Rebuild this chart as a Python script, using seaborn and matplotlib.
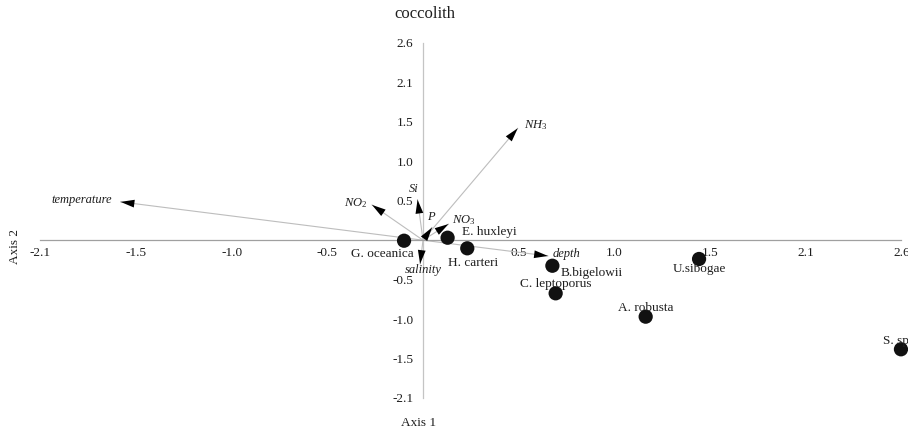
import matplotlib
matplotlib.use("Agg")
import matplotlib.pyplot as plt
import seaborn as sns
import pandas as pd

# Species scores on the first two ordination axes
species = ["G. oceanica", "E. huxleyi", "H. carteri", "B.bigelowii",
           "C. leptoporus", "A. robusta", "U.sibogae", "S. spp"]
species_axis1 = [-0.104, 0.135, 0.243, 0.71, 0.728, 1.222, 1.515, 2.623]
species_axis2 = [-0.007, 0.033, -0.108, -0.34, -0.707, -1.018, -0.25, -1.452]

# Environmental variable vectors
variables = ["temperature", "NO2", "Si", "P", "NO3", "NH3", "depth", "salinity"]
variable_labels = ["temperature", r"$NO_2$", "Si", "P", r"$NO_3$", r"$NH_3$",
                   "depth", "salinity"]
variable_axis1 = [-1.66, -0.28, -0.03, 0.05, 0.14, 0.52, 0.686, -0.016]
variable_axis2 = [0.51, 0.47, 0.54, 0.17, 0.215, 1.49, -0.21, -0.317]

# Axis ticks (step of 0.525 between ticks)
tick_step = 0.525
x_tick_labels = ["-2.1", "-1.5", "-1.0", "-0.5", "0.5", "1.0", "1.5", "2.1", "2.6"]
y_tick_labels = ["-2.1", "-1.5", "-1.0", "-0.5", "0.5", "1.0", "1.5", "2.1", "2.6"]
tick_steps = [-4, -3, -2, -1, 1, 2, 3, 4, 5]

# Label placement (offset in pixels, alignment)
species_offsets = [(-22, -13, "center"), (14, 6, "left"), (6, -15, "center"),
                   (8, -7, "left"), (0, 9, "center"), (0, 9, "center"),
                   (0, -10, "center"), (-18, 8, "left")]
variable_offsets = [(-9, 2, "right"), (-5, 2, "right"), (-4, 11, "center"),
                    (-1, 10, "center"), (3, 4, "left"), (6, 3, "left"),
                    (5, 2, "left"), (3, -6, "center")]

sns.set_style("white")
plt.rcParams["font.family"] = ["Liberation Serif", "DejaVu Serif"]
plt.rcParams["mathtext.fontset"] = "custom"
plt.rcParams["mathtext.rm"] = "Liberation Serif"
plt.rcParams["mathtext.it"] = "Liberation Serif:italic"

W, H = 908, 429
fig = plt.figure(figsize=(W / 100, H / 100), dpi=100)
ax = fig.add_axes([0, 0, 1, 1])
ax.patch.set_alpha(0)

# pixel geometry of the plotting frame
ox, oy = 423.0, 240.2
sx, sy = 182.22, 75.13
ax.set_xlim(-ox / sx, (W - ox) / sx)
ax.set_ylim(-(H - oy) / sy, oy / sy)

x_axis_grey = "#a0a0a0"
y_axis_grey = "#c4c4c4"
vector_grey = "#bdbdbd"
text_col = "#1e1e1e"

# environmental vectors
for x, y in zip(variable_axis1, variable_axis2):
    ax.plot([0, x], [0, y], color=vector_grey, lw=0.8, zorder=1)
    ax.annotate("", xy=(x, y), xytext=(0, 0),
                arrowprops=dict(arrowstyle="-|>,head_length=1.0,head_width=0.28",
                                color="black", lw=0, shrinkA=0, shrinkB=0,
                                mutation_scale=10),
                zorder=3)

for lab, x, y, (dx, dy, ha) in zip(variable_labels, variable_axis1,
                                   variable_axis2, variable_offsets):
    ax.annotate(lab, xy=(x, y), xytext=(dx * 0.72, dy * 0.72),
                textcoords="offset points", ha=ha, va="center",
                fontsize=9, style="italic", color=text_col, zorder=4)

# species points
df = pd.DataFrame({"species": species, "axis1": species_axis1,
                   "axis2": species_axis2})
sns.scatterplot(data=df, x="axis1", y="axis2", ax=ax, s=105, color="#111111",
                edgecolor="none", legend=False, zorder=5, clip_on=False)
for name, x, y, (dx, dy, ha) in zip(species, species_axis1, species_axis2,
                                    species_offsets):
    ax.annotate(name, xy=(x, y), xytext=(dx * 0.72, dy * 0.72),
                textcoords="offset points", ha=ha, va="center",
                fontsize=9.5, color=text_col, zorder=6)

ax.set_xlabel("")
ax.set_ylabel("")

# centred axes
for side in ("top", "right"):
    ax.spines[side].set_visible(False)
for side, col in (("left", y_axis_grey), ("bottom", x_axis_grey)):
    sp = ax.spines[side]
    sp.set_visible(True)
    sp.set_position(("data", 0))
    sp.set_bounds(-4 * tick_step, 5 * tick_step)
    sp.set_color(col)
    sp.set_linewidth(0.9)

ticks = [k * tick_step for k in tick_steps]
ax.set_xticks(ticks)
ax.set_xticklabels(x_tick_labels)
ax.set_yticks(ticks)
ax.set_yticklabels(y_tick_labels)
ax.tick_params(axis="x", direction="in", length=5, width=0.8, color=x_axis_grey,
               pad=5, labelsize=9.5, labelcolor=text_col)
ax.tick_params(axis="y", direction="inout", length=12, width=0.8,
               color=y_axis_grey, pad=1, labelsize=9.5, labelcolor=text_col)

fig.text(425 / W, 1 - 14 / H, "coccolith", ha="center", va="center",
         fontsize=12, color=text_col)
fig.text(15 / W, 1 - 246 / H, "Axis 2", ha="center", va="center",
         rotation=90, fontsize=9.5, color=text_col)
fig.text(419 / W, 1 - 423 / H, "Axis 1", ha="center", va="center",
         fontsize=9.5, color=text_col)

fig.savefig("out.png", dpi=100)
